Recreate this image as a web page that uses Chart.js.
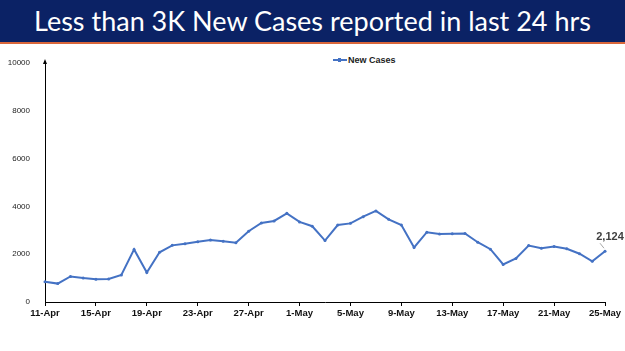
<!DOCTYPE html>
<html>
<head>
<meta charset="utf-8">
<script src="https://cdn.jsdelivr.net/npm/chart.js@4"></script>
<style>
  html, body { margin: 0; padding: 0; background: #fff; }
  #wrap { position: relative; width: 625px; height: 351px; overflow: hidden; }
  #banner {
    position: absolute; left: 0; top: 0; width: 625px; height: 42px;
    background: #0b2265; border-bottom: 2px solid #d9663a;
    color: #fff; font-family: Lato, "Open Sans", sans-serif; font-size: 27px;
    line-height: 42px; text-align: center; white-space: nowrap;
  }
  #legend {
    position: absolute; left: 333px; top: 55px; font: bold 9px "Liberation Sans", Arial, sans-serif;
    color: #222; display: flex; align-items: center;
  }
  #legend .mk { position: relative; width: 14px; height: 2px; background: #4472c4; margin-right: 1px; }
  #legend .mk::after { content: ""; position: absolute; left: 5px; top: -1px; width: 3px; height: 4px; background: #4472c4; }
  #chart { position: absolute; left: 0; top: 44px; }
</style>
</head>
<body>
<div id="wrap">
  <div id="banner">Less than 3K New Cases reported in last 24 hrs</div>
  <div id="legend"><span class="mk"></span>New Cases</div>
  <canvas id="chart" width="625" height="307"></canvas>
</div>
<script>
const dates = [
  "11-Apr", "12-Apr", "13-Apr", "14-Apr", "15-Apr", "16-Apr", "17-Apr", "18-Apr", "19-Apr", "20-Apr",
  "21-Apr", "22-Apr", "23-Apr", "24-Apr", "25-Apr", "26-Apr", "27-Apr", "28-Apr", "29-Apr", "30-Apr",
  "1-May", "2-May", "3-May", "4-May", "5-May", "6-May", "7-May", "8-May", "9-May", "10-May",
  "11-May", "12-May", "13-May", "14-May", "15-May", "16-May", "17-May", "18-May", "19-May", "20-May",
  "21-May", "22-May", "23-May", "24-May", "25-May"
];
const newCases = [
  850, 770, 1070, 1000, 950, 960, 1130, 2200, 1230, 2080,
  2370, 2440, 2520, 2590, 2540, 2480, 2960, 3310, 3390, 3710,
  3350, 3170, 2570, 3220, 3290, 3570, 3810, 3460, 3220, 2280,
  2920, 2850, 2860, 2870, 2500, 2210, 1570, 1820, 2360, 2250,
  2320, 2230, 2020, 1700, 2124
];
const yTicks = [0, 2000, 4000, 6000, 8000, 10000];

const lineBlue = "#4472c4";

const extras = {
  id: "extras",
  afterDraw(chart) {
    const { ctx, chartArea, scales } = chart;
    const x0 = scales.x.left;
    // arrow head on y axis
    ctx.save();
    ctx.fillStyle = "#000";
    ctx.beginPath();
    ctx.moveTo(x0, chartArea.top - 4);
    ctx.lineTo(x0 - 2, chartArea.top + 1);
    ctx.lineTo(x0 + 2, chartArea.top + 1);
    ctx.closePath();
    ctx.fill();
    // data label on last point
    const meta = chart.getDatasetMeta(0);
    const last = meta.data[meta.data.length - 1];
    const v = newCases[newCases.length - 1];
    ctx.strokeStyle = "#a6a6a6";
    ctx.lineWidth = 1;
    ctx.beginPath();
    ctx.moveTo(last.x - 1, last.y - 3);
    ctx.lineTo(last.x - 5, last.y - 8);
    ctx.stroke();
    ctx.fillStyle = "#404040";
    ctx.font = "bold 11px 'Liberation Sans', Arial, sans-serif";
    ctx.textAlign = "center";
    ctx.textBaseline = "middle";
    ctx.fillText(v.toLocaleString("en-US"), last.x + 5, last.y - 14);
    ctx.restore();
  }
};

new Chart(document.getElementById("chart"), {
  type: "line",
  data: {
    labels: dates,
    datasets: [{
      label: "New Cases",
      data: newCases,
      borderColor: lineBlue,
      backgroundColor: lineBlue,
      borderWidth: 2,
      pointRadius: 1.5,
      pointBorderWidth: 0,
      tension: 0
    }]
  },
  options: {
    responsive: false,
    animation: false,
    layout: { padding: { top: 19, right: 20, left: 0, bottom: 0 } },
    plugins: { legend: { display: false }, tooltip: { enabled: false } },
    scales: {
      x: {
        offset: false,
        grid: {
          drawOnChartArea: false,
          drawTicks: true,
          tickLength: 4,
          color: (c) => (c.index % 4 === 0 ? "#000" : "rgba(0,0,0,0)")
        },
        border: { display: true, color: "#000", width: 1 },
        ticks: {
          autoSkip: false,
          maxRotation: 0,
          padding: 2,
          color: "#111",
          font: { family: "'Liberation Sans', Arial, sans-serif", size: 9.5, weight: "bold" },
          callback: (val, i) => (i % 4 === 0 ? dates[i] : "")
        },
        afterFit: (s) => { s.height = 49; }
      },
      y: {
        min: 0,
        max: 10000,
        afterBuildTicks: (s) => { s.ticks = yTicks.map((v) => ({ value: v })); },
        grid: { display: false },
        border: { display: true, color: "#000", width: 1 },
        ticks: {
          padding: 7,
          color: "#222",
          font: { family: "'Liberation Sans', Arial, sans-serif", size: 8 },
          callback: (v) => String(v)
        },
        afterFit: (s) => { s.width = 45; }
      }
    }
  },
  plugins: [extras]
});
</script>
</body>
</html>
